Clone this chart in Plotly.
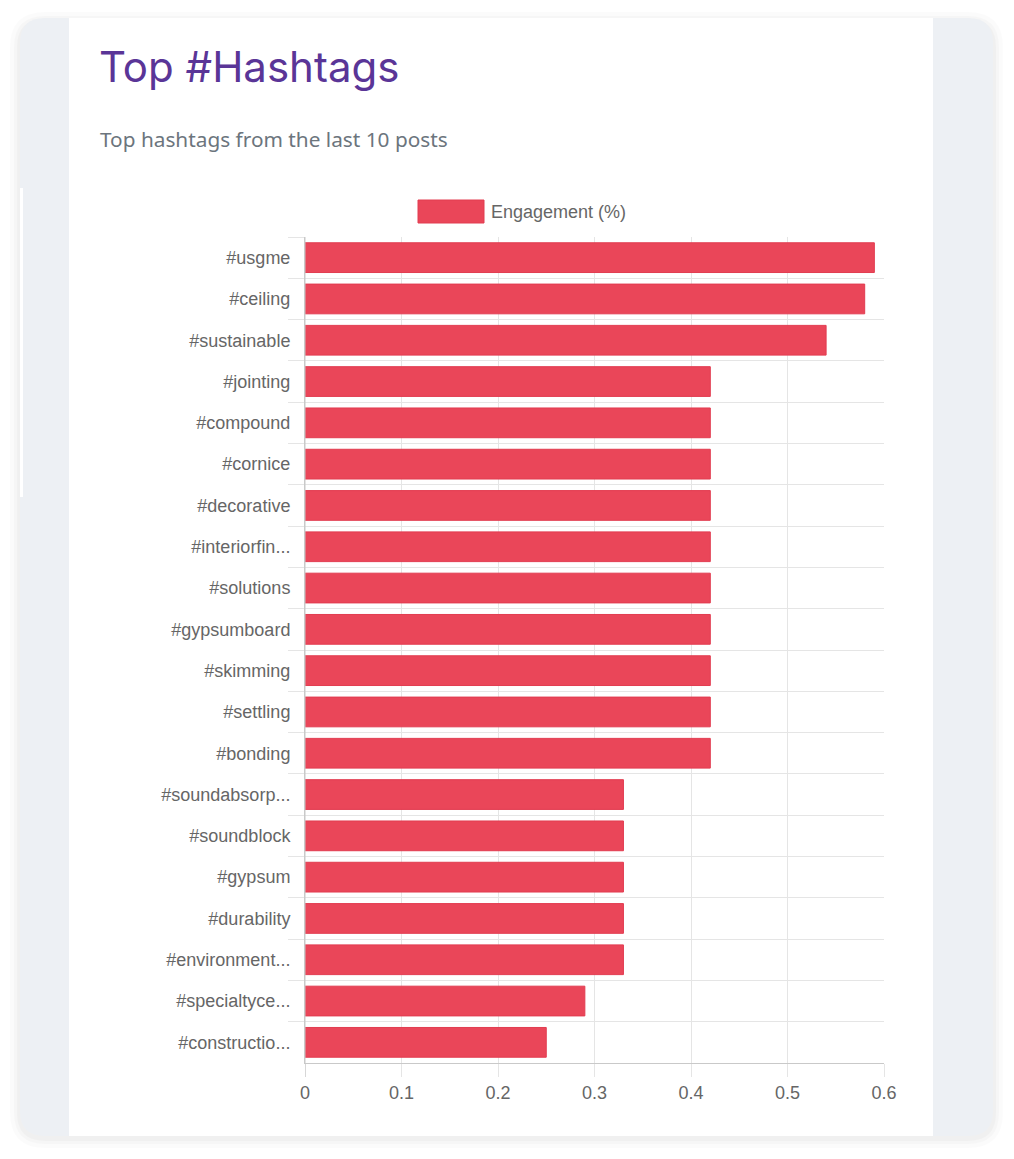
import plotly.graph_objects as go

# data
hashtags = ['#usgme', '#ceiling', '#sustainable', '#jointing', '#compound',
            '#cornice', '#decorative', '#interiorfin...', '#solutions',
            '#gypsumboard', '#skimming', '#settling', '#bonding',
            '#soundabsorp...', '#soundblock', '#gypsum', '#durability',
            '#environment...', '#specialtyce...', '#constructio...']
engagement = [0.59, 0.58, 0.54, 0.42, 0.42, 0.42, 0.42, 0.42, 0.42, 0.42,
              0.42, 0.42, 0.42, 0.33, 0.33, 0.33, 0.33, 0.33, 0.29, 0.25]
x_ticks = [0, 0.1, 0.2, 0.3, 0.4, 0.5, 0.6]

W, H = 1014, 1159
BAR = '#ea4659'
TXT = '#666666'
GRID = '#e5e5e5'


def px(x):
    return x / W


def py(y):
    return 1 - y / H


def rounded(x0, y0, x1, y1, r):
    # rounded rectangle path, pixel input -> paper coords
    pts = [
        ('M', [(x0 + r, y0)]), ('L', [(x1 - r, y0)]), ('Q', [(x1, y0), (x1, y0 + r)]),
        ('L', [(x1, y1 - r)]), ('Q', [(x1, y1), (x1 - r, y1)]),
        ('L', [(x0 + r, y1)]), ('Q', [(x0, y1), (x0, y1 - r)]),
        ('L', [(x0, y0 + r)]), ('Q', [(x0, y0), (x0 + r, y0)]),
    ]
    s = ''
    for cmd, pp in pts:
        s += cmd + ' ' + ' '.join('%.5f,%.5f' % (px(a), py(b)) for a, b in pp) + ' '
    return s + 'Z'


fig = go.Figure()

fig.add_trace(go.Bar(
    x=engagement, y=hashtags, orientation='h',
    marker=dict(color=BAR, line=dict(color='#e23c50', width=1)),
    name='Engagement (%)', showlegend=False,
))

shapes = []
# soft shadow round the card
for grow, op in [(10, 0.015), (6, 0.02), (3, 0.025)]:
    shapes.append(dict(type='path', xref='paper', yref='paper', layer='below',
                       path=rounded(20 - grow, 18 - grow + 4, 993 + grow, 1136 + grow + 2, 25 + grow),
                       fillcolor='rgba(0,0,0,%s)' % op, line=dict(width=0)))
# grey card
shapes.append(dict(type='path', xref='paper', yref='paper', layer='below',
                   path=rounded(20, 18, 993, 1136, 25),
                   fillcolor='#edf0f4', line=dict(width=0)))
# white panel
shapes.append(dict(type='rect', xref='paper', yref='paper', layer='below',
                   x0=px(69), x1=px(933), y0=py(1136), y1=py(18),
                   fillcolor='white', line=dict(width=0)))
# thin white strip on the left edge
shapes.append(dict(type='rect', xref='paper', yref='paper', layer='below',
                   x0=px(20), x1=px(23), y0=py(497), y1=py(188),
                   fillcolor='white', line=dict(width=0)))
# legend swatch
shapes.append(dict(type='rect', xref='paper', yref='paper',
                   x0=px(418), x1=px(484), y0=py(223), y1=py(200),
                   fillcolor=BAR, line=dict(color='#e23c50', width=1)))
# darker zero line running down into the tick area
shapes.append(dict(type='line', xref='x', yref='paper', x0=0, x1=0,
                   y0=py(1077), y1=py(237), line=dict(color='#c9c9c9', width=1)))

annotations = [
    dict(text='Top #Hashtags', x=px(97), y=py(66), xref='paper', yref='paper',
         xanchor='left', yanchor='middle', showarrow=False,
         font=dict(family='Inter', size=42, color='#5a3597')),
    dict(text='Top hashtags from the last 10 posts', x=px(98), y=py(139),
         xref='paper', yref='paper', xanchor='left', yanchor='middle',
         showarrow=False, font=dict(family='Noto Sans', size=20.8, color='#6c757d')),
    dict(text='Engagement (%)', x=px(489), y=py(212), xref='paper', yref='paper',
         xanchor='left', yanchor='middle', showarrow=False,
         font=dict(family='Liberation Sans', size=18, color=TXT)),
]

fig.update_layout(
    width=W, height=H,
    margin=dict(l=0, r=0, t=0, b=0, pad=0, autoexpand=False),
    paper_bgcolor='white', plot_bgcolor='rgba(0,0,0,0)',
    shapes=shapes, annotations=annotations,
    bargap=0.28, showlegend=False,
    font=dict(family='Liberation Sans', size=18, color=TXT),
    xaxis=dict(domain=[px(305), px(884)], range=[0, 0.6], tickvals=x_ticks,
               ticktext=[str(v) for v in x_ticks],
               showgrid=True, gridcolor=GRID, gridwidth=1,
               ticks='outside', ticklen=13, tickcolor=GRID,
               showline=True, linecolor='#c9c9c9', linewidth=1,
               zeroline=False, fixedrange=True),
    yaxis=dict(domain=[py(1063), py(237)], type='category',
               autorange='reversed', tickson='boundaries',
               showgrid=True, gridcolor=GRID, gridwidth=1,
               ticks='outside', ticklen=16, tickcolor=GRID,
               ticklabelstandoff=10,
               showline=True, linecolor='#c9c9c9', linewidth=1,
               zeroline=False, fixedrange=True),
)

fig.write_html("out.html", config={'displayModeBar': False, 'responsive': False},
               post_script="document.body.style.margin='0';"
                           "document.body.style.overflow='hidden';"
                           "document.documentElement.style.overflow='hidden';")
